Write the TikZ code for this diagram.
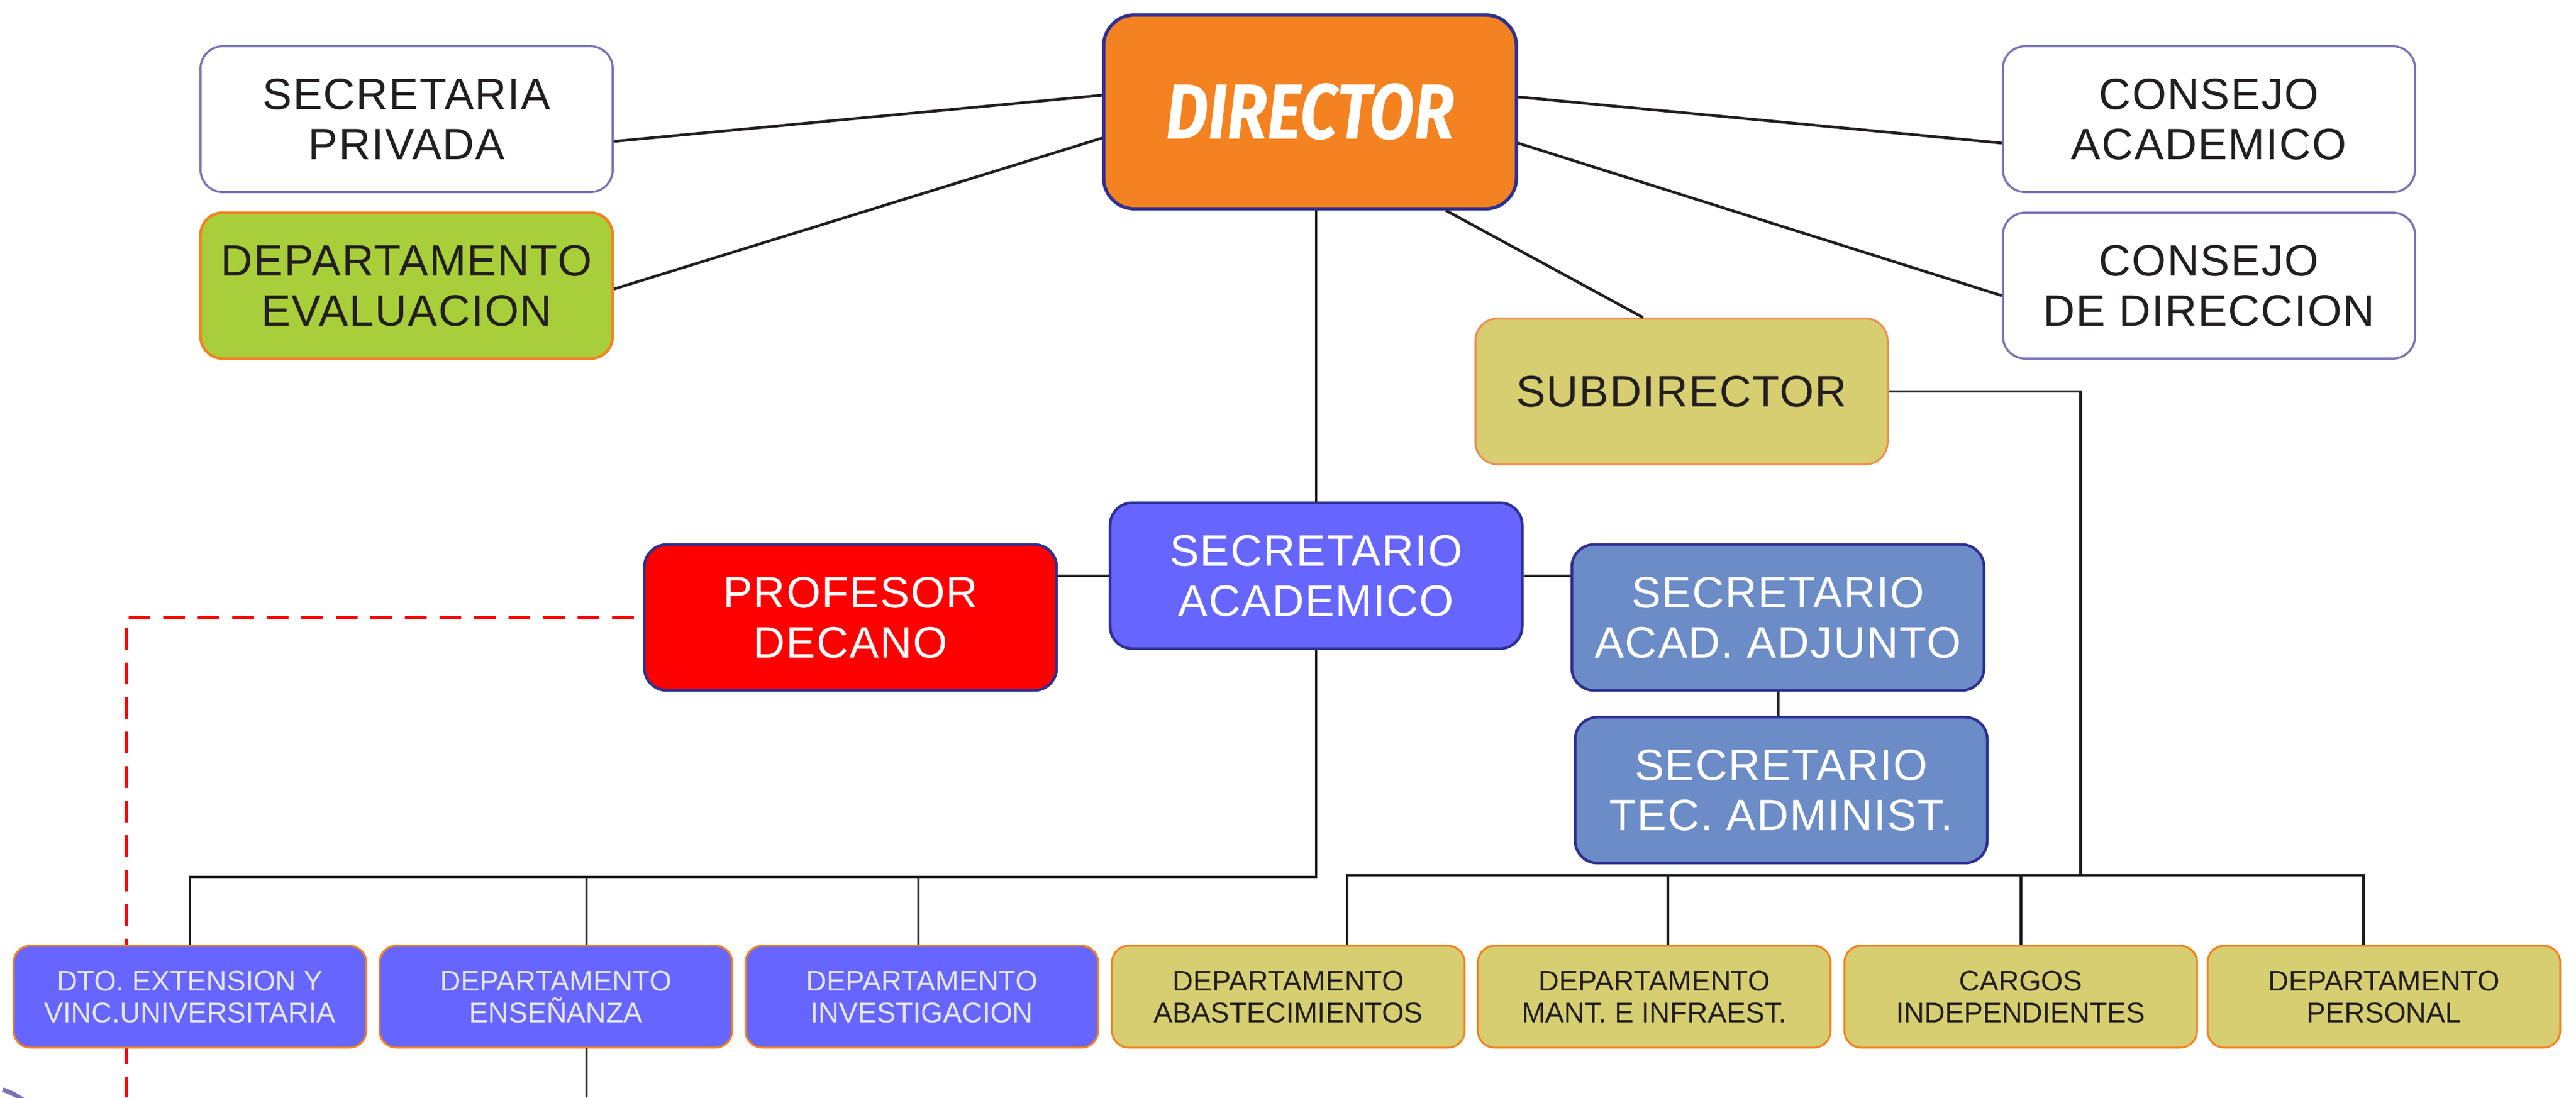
\documentclass[tikz,border=0pt]{standalone}
\usepackage{fontspec}
\setmainfont{Liberation Sans}
\newfontfamily\boxfont[LetterSpace=2.5]{Liberation Sans}
\newfontfamily\dirfont[FakeStretch=0.84]{Fira Sans}
\definecolor{dirorange}{RGB}{245, 130, 32}
\definecolor{frameblue}{RGB}{46, 49, 146}
\definecolor{framepurple}{RGB}{122, 115, 184}
\definecolor{evalgreen}{RGB}{168, 206, 58}
\definecolor{khaki}{RGB}{214, 206, 113}
\definecolor{subframe}{RGB}{240, 140, 80}
\definecolor{deptblue}{RGB}{102, 102, 255}
\definecolor{adjblue}{RGB}{108, 140, 200}
\definecolor{deanred}{RGB}{255, 0, 0}
\definecolor{inkblack}{RGB}{35, 31, 32}
\definecolor{palegray}{RGB}{230, 230, 230}

\tikzset{
  unit/.style={draw, rounded corners=4mm, minimum width=7.4cm, minimum height=2.62cm, inner sep=0pt, align=center, font=\boxfont\fontsize{22.5}{25.6}\selectfont, text=inkblack},
  whiteunit/.style={unit, draw=framepurple, line width=1.1pt, fill=white},
  greenunit/.style={unit, draw=dirorange, line width=1.4pt, fill=evalgreen},
  subunit/.style={unit, draw=subframe, line width=1pt, fill=khaki},
  blueunit/.style={unit, draw=frameblue, line width=1.4pt, fill=deptblue, text=white},
  redunit/.style={unit, draw=frameblue, line width=1.4pt, fill=deanred, text=white},
  adjunit/.style={unit, draw=frameblue, line width=1.4pt, fill=adjblue, text=white},
  dirunit/.style={draw=frameblue, line width=1.7pt, fill=dirorange, rounded corners=5.5mm, minimum width=7.41cm, minimum height=3.48cm, inner sep=0pt, text=white, font=\dirfont\bfseries\itshape\fontsize{40}{42}\selectfont},
  dept/.style={draw=dirorange, line width=1pt, rounded corners=3mm, minimum width=6.33cm, minimum height=1.83cm, inner sep=0pt, align=center, font=\fontsize{14.5}{16.2}\selectfont},
  bluedept/.style={dept, fill=deptblue, text=palegray},
  khakidept/.style={dept, fill=khaki, text=inkblack},
  link/.style={draw=inkblack, line width=1.4pt},
  dashlink/.style={draw=deanred, line width=1.9pt, dash pattern=on 3.9mm off 2.3mm}
}

\begin{document}
\begin{tikzpicture}
  \useasboundingbox (0, 0) rectangle (46.25, -19.71);

  % Top level
  \node[whiteunit] (secpriv) at (7.30, -2.14) {SECRETARIA\\PRIVADA};
  \node[greenunit] (depeval) at (7.30, -5.13) {DEPARTAMENTO\\EVALUACION};
  \node[dirunit] (director) at (23.52, -2.01) {DIRECTOR};
  \node[whiteunit] (conacad) at (39.66, -2.14) {CONSEJO\\ACADEMICO};
  \node[whiteunit] (condir) at (39.66, -5.13) {CONSEJO\\DE DIRECCION};
  \node[subunit] (subdir) at (30.19, -7.03) {SUBDIRECTOR};

  % Secretaries
  \node[blueunit] (secacad) at (23.63, -10.34) {SECRETARIO\\ACADEMICO};
  \node[redunit] (profdec) at (15.27, -11.09) {PROFESOR\\DECANO};
  \node[adjunit] (adjunto) at (31.92, -11.09) {SECRETARIO\\ACAD. ADJUNTO};
  \node[adjunit] (tecadm) at (31.98, -14.19) {SECRETARIO\\TEC. ADMINIST.};

  % Dean's dashed link (runs behind the first department)
  \coordinate (dashend) at (2.27, -19.71);
  \draw[dashlink] ([xshift=-1.7mm]profdec.west) -| (dashend);

  % Departments
  \node[bluedept] (extension) at (3.41, -17.90) {DTO. EXTENSION Y\\VINC.UNIVERSITARIA};
  \node[bluedept] (ensenanza) at (9.98, -17.90) {DEPARTAMENTO\\ENSEÑANZA};
  \node[bluedept] (investig) at (16.55, -17.90) {DEPARTAMENTO\\INVESTIGACION};
  \node[khakidept] (abastec) at (23.13, -17.90) {DEPARTAMENTO\\ABASTECIMIENTOS};
  \node[khakidept] (mantinf) at (29.70, -17.90) {DEPARTAMENTO\\MANT. E INFRAEST.};
  \node[khakidept] (cargos) at (36.28, -17.90) {CARGOS\\INDEPENDIENTES};
  \node[khakidept] (personal) at (42.80, -17.90) {DEPARTAMENTO\\PERSONAL};

  % Director links
  \draw[link] ([yshift=-4mm]secpriv.east) -- ([yshift=3mm]director.west);
  \draw[link] ([yshift=-0.6mm]depeval.east) -- ([yshift=-4.7mm]director.west);
  \draw[link] ([yshift=2.7mm]director.east) -- ([yshift=-4.3mm]conacad.west);
  \draw[link] ([yshift=-5.6mm]director.east) -- ([yshift=-1.8mm]condir.west);
  \draw[link] ([xshift=24.4mm]director.south) -- ([xshift=-6.9mm]subdir.north);
  \draw[link] (director.south -| secacad.north) -- (secacad.north);

  % Secretary links
  \draw[link] (secacad.west) -- (secacad.west -| profdec.east);
  \draw[link] (secacad.east) -- (secacad.east -| adjunto.west);
  \draw[link] (adjunto.south) -- (adjunto.south |- tecadm.north);

  % Buses
  \coordinate (leftbus) at (0, -15.75);
  \coordinate (subturn) at (37.35, -15.72);
  \coordinate (bottomedge) at (0, -19.71);
  \coordinate (ensdrop) at ([xshift=5.5mm]ensenanza.north);
  \coordinate (invdrop) at ([xshift=-0.6mm]investig.north);
  \coordinate (abadrop) at ([xshift=10.6mm]abastec.north);
  \coordinate (mantdrop) at ([xshift=2.4mm]mantinf.north);
  \coordinate (perdrop) at ([xshift=-3.7mm]personal.north);
  \coordinate (enstail) at ([xshift=5.5mm]ensenanza.south);

  \draw[link] (secacad.south) -- (secacad.south |- leftbus) -- (extension.north |- leftbus) -- (extension.north);
  \draw[link] (ensdrop) -- (ensdrop |- leftbus);
  \draw[link] (invdrop) -- (invdrop |- leftbus);
  \draw[link] (abadrop) -- (abadrop |- subturn) -- (perdrop |- subturn) -- (perdrop);
  \draw[link] (mantdrop) -- (mantdrop |- subturn);
  \draw[link] (cargos.north) -- (cargos.north |- subturn);
  \draw[link] (subdir.east) -- (subdir.east -| subturn) -- (subturn);
  \draw[link] (enstail) -- (enstail |- bottomedge);

  % Corner fragment
  \draw[line width=2.3pt, framepurple] (0.05, -19.57) to[bend left=8] (0.42, -19.76);
\end{tikzpicture}
\end{document}
